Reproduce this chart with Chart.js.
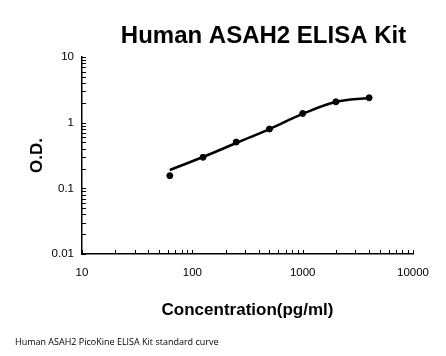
<!DOCTYPE html>
<html>
<head>
<meta charset="utf-8">
<script src="https://cdn.jsdelivr.net/npm/chart.js@4/dist/chart.umd.min.js"></script>
<style>
  html, body { margin: 0; padding: 0; background: #fff; }
  #wrap { width: 446px; height: 356px; }
</style>
</head>
<body>
<div id="wrap"><canvas id="ch"></canvas></div>
<script>
// standard curve data
const concentration = [62.5, 125, 250, 500, 1000, 2000, 4000];
const odMeasured    = [0.156, 0.297, 0.507, 0.80, 1.38, 2.08, 2.39];
const odFitted      = [0.19, 0.30, 0.49, 0.80, 1.36, 2.06, 2.38];
const xTicks = [10, 100, 1000, 10000];
const yTicks = [0.01, 0.1, 1, 10];

const chartTitle  = 'Human ASAH2 ELISA Kit';
const footerText  = 'Human ASAH2 PicoKine ELISA Kit standard curve';

const tickFont = { family: '"Liberation Sans"', size: 11.5 };
const axTitleFont = { family: '"Liberation Sans"', size: 17, weight: 'bold' };

// small inward log ticks + title/footer text
const decor = {
  id: 'decor',
  afterDraw(chart) {
    const { ctx, chartArea: a, scales: { x, y } } = chart;
    ctx.save();
    ctx.strokeStyle = '#000';
    ctx.lineWidth = 1;
    ctx.beginPath();
    for (let e = Math.log10(x.min); e < Math.log10(x.max); e++) {
      for (let m = 1; m <= 10; m++) {
        const px = Math.round(x.getPixelForValue(m * Math.pow(10, e))) + 0.5;
        ctx.moveTo(px, a.bottom); ctx.lineTo(px, a.bottom - 4);
      }
    }
    for (let e = Math.log10(y.min); e < Math.log10(y.max); e++) {
      for (let m = 1; m <= 10; m++) {
        const py = Math.round(y.getPixelForValue(m * Math.pow(10, e))) + 0.5;
        ctx.moveTo(a.left, py); ctx.lineTo(a.left + 4, py);
      }
    }
    ctx.stroke();

    ctx.fillStyle = '#000';
    ctx.font = 'bold 24px "Liberation Sans"';
    ctx.textAlign = 'center';
    ctx.textBaseline = 'alphabetic';
    ctx.fillText(chartTitle, 263.5, 43);

    ctx.font = '9px "Open Sans"';
    ctx.textAlign = 'left';
    ctx.textBaseline = 'middle';
    ctx.fillText(footerText, 15, 342);
    ctx.restore();
  }
};

new Chart(document.getElementById('ch'), {
  type: 'scatter',
  data: {
    datasets: [
      {
        label: 'fit',
        data: concentration.map((c, i) => ({ x: c, y: odFitted[i] })),
        showLine: true,
        borderColor: '#000',
        borderWidth: 2.5,
        pointRadius: 0,
        tension: 0.4,
        order: 2,
      },
      {
        label: 'OD',
        data: concentration.map((c, i) => ({ x: c, y: odMeasured[i] })),
        pointRadius: 3,
        pointBackgroundColor: '#000',
        pointBorderColor: '#000',
        order: 1,
      }
    ]
  },
  options: {
    responsive: true,
    maintainAspectRatio: false,
    animation: false,
    layout: { padding: { left: 0, right: 33, top: 57, bottom: 0 } },
    plugins: { legend: { display: false }, tooltip: { enabled: false } },
    scales: {
      x: {
        type: 'logarithmic',
        min: 10, max: 10000,
        afterBuildTicks: s => { s.ticks = xTicks.map(v => ({ value: v })); },
        afterFit: s => { s.height = 102; },
        grid: { display: false, drawTicks: false },
        border: { display: true, color: '#000', width: 1.5 },
        ticks: { color: '#000', font: tickFont, padding: 12, maxRotation: 0, autoSkip: false, callback: v => String(v) },
        title: { display: true, text: 'Concentration(pg/ml)', color: '#000', font: axTitleFont, padding: { top: 0, bottom: 35 } }
      },
      y: {
        type: 'logarithmic',
        min: 0.01, max: 10,
        afterBuildTicks: s => { s.ticks = yTicks.map(v => ({ value: v })); },
        afterFit: s => { s.width = 82; },
        grid: { display: false, drawTicks: false },
        border: { display: true, color: '#000', width: 1.5 },
        ticks: { color: '#000', font: tickFont, padding: 8, autoSkip: false, callback: v => String(v) },
        title: { display: true, text: 'O.D.', color: '#000', font: axTitleFont, padding: { top: 27, bottom: 0 } }
      }
    }
  },
  plugins: [decor]
});
</script>
</body>
</html>
